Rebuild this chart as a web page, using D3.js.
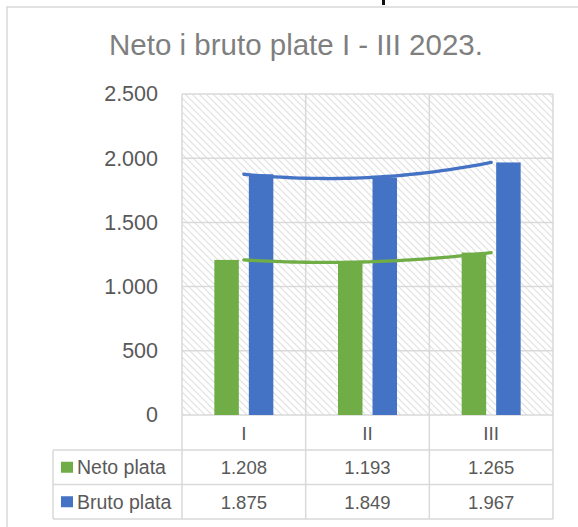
<!DOCTYPE html>
<html>
<head>
<meta charset="utf-8">
<script src="https://cdn.jsdelivr.net/npm/d3@7"></script>
<style>
  body { margin: 0; background: #fff; }
  svg { display: block; }
</style>
</head>
<body>
<div id="chart"></div>
<script>
const categories = ['I', 'II', 'III']
const seriesNames = ['Neto plata', 'Bruto plata']
const netoValues = [1208, 1193, 1265]
const brutoValues = [1875, 1849, 1967]
const yTicks = [0, 500, 1000, 1500, 2000, 2500]
const colors = ['#70ad47', '#4472c4']

const W = 578
const H = 527
const plot = { left: 182, right: 553, top: 94, bottom: 415 }
const table = { left: 53, top: 450, rowH: 34.5 }
const grey = '#d9d9d9'
const textCol = '#595959'

const locale = d3.formatLocale({ decimal: ',', thousands: '.', grouping: [3], currency: ['', ''] })
const fmt = locale.format(',d')

const series = [netoValues, brutoValues]

const svg = d3.select('#chart')
  .append('svg')
  .attr('width', W)
  .attr('height', H)
  .style('font-family', '"Liberation Sans", Arial, sans-serif')

// hatched plot background
const defs = svg.append('defs')
const pat = defs.append('pattern')
  .attr('id', 'hatch')
  .attr('patternUnits', 'userSpaceOnUse')
  .attr('width', 7)
  .attr('height', 7)
pat.append('rect').attr('width', 7).attr('height', 7).attr('fill', '#fff')
pat.append('path')
  .attr('d', 'M-1,-1 L8,8 M-1,6 L1,8 M6,-1 L8,1')
  .attr('stroke', '#e0e0e0')
  .attr('stroke-width', 1.1)

// chart border and the clipped mark above it
svg.append('rect')
  .attr('x', 7).attr('y', 7)
  .attr('width', 620).attr('height', 600)
  .attr('fill', 'none')
  .attr('stroke', grey)
  .attr('stroke-width', 1.5)
svg.append('rect')
  .attr('x', 382).attr('y', 0)
  .attr('width', 3).attr('height', 5)
  .attr('fill', '#111')

svg.append('text')
  .attr('x', 296)
  .attr('y', 55)
  .attr('text-anchor', 'middle')
  .attr('fill', '#7f7f7f')
  .style('font-size', '29.5px')
  .text('Neto i bruto plate I - III 2023.')

const x = d3.scaleBand().domain(categories).range([plot.left, plot.right])
const inner = d3.scaleBand().domain(seriesNames).range([-29.5, 29.5]).paddingInner(0.29)
const y = d3.scaleLinear().domain([0, 2500]).range([plot.bottom, plot.top])

svg.append('rect')
  .attr('x', plot.left).attr('y', plot.top)
  .attr('width', plot.right - plot.left)
  .attr('height', plot.bottom - plot.top)
  .attr('fill', 'url(#hatch)')

// gridlines
svg.append('g')
  .selectAll('line')
  .data(yTicks)
  .enter().append('line')
  .attr('x1', plot.left).attr('x2', plot.right)
  .attr('y1', d => y(d)).attr('y2', d => y(d))
  .attr('stroke', grey)
  .attr('stroke-width', 1.5)

// vertical category lines, from plot top through the table
const bounds = categories.map(c => x(c)).concat([plot.right])
svg.append('g')
  .selectAll('line')
  .data(bounds)
  .enter().append('line')
  .attr('x1', d => d).attr('x2', d => d)
  .attr('y1', plot.top).attr('y2', table.top + 2 * table.rowH)
  .attr('stroke', grey)
  .attr('stroke-width', 1.5)

// y axis labels
svg.append('g')
  .call(d3.axisLeft(y).tickValues(yTicks).tickFormat(fmt).tickSize(0).tickPadding(0))
  .attr('transform', 'translate(158,0)')
  .call(g => g.select('.domain').remove())
  .call(g => g.selectAll('text')
    .attr('fill', textCol)
    .style('font-size', '21.5px')
    .style('font-family', '"Liberation Sans", Arial, sans-serif'))

// bars
series.forEach((vals, i) => {
  svg.append('g')
    .selectAll('rect')
    .data(vals)
    .enter().append('rect')
    .attr('x', (d, j) => x(categories[j]) + x.bandwidth() / 2 + inner(seriesNames[i]))
    .attr('y', d => y(d))
    .attr('width', inner.bandwidth())
    .attr('height', d => y(0) - y(d))
    .attr('fill', colors[i])
})

// polynomial (order 2) trendlines through the three months
function quad (vals) {
  const [a, b, c] = vals
  return t => a * (t - 1) * (t - 2) / 2 - b * t * (t - 2) + c * t * (t - 1) / 2
}
series.forEach((vals, i) => {
  const f = quad(vals)
  const pts = d3.range(0, 2.001, 0.05).map(t => [
    x(categories[0]) + x.bandwidth() / 2 + t * x.step(),
    y(f(t))
  ])
  svg.append('path')
    .attr('d', d3.line()(pts))
    .attr('fill', 'none')
    .attr('stroke', colors[i])
    .attr('stroke-width', 3.3)
    .attr('stroke-linecap', 'round')
})

// category labels
svg.append('g')
  .selectAll('text')
  .data(categories)
  .enter().append('text')
  .attr('x', d => x(d) + x.bandwidth() / 2)
  .attr('y', 440)
  .attr('text-anchor', 'middle')
  .attr('fill', textCol)
  .style('font-size', '19px')
  .text(d => d)

// data table
const rowYs = [table.top, table.top + table.rowH, table.top + 2 * table.rowH]
svg.append('g')
  .selectAll('line')
  .data(rowYs)
  .enter().append('line')
  .attr('x1', table.left).attr('x2', plot.right)
  .attr('y1', d => d).attr('y2', d => d)
  .attr('stroke', grey)
  .attr('stroke-width', 1.5)
svg.append('line')
  .attr('x1', table.left).attr('x2', table.left)
  .attr('y1', table.top).attr('y2', table.top + 2 * table.rowH)
  .attr('stroke', grey)
  .attr('stroke-width', 1.5)

seriesNames.forEach((name, i) => {
  const cy = table.top + table.rowH * (i + 0.5)
  svg.append('rect')
    .attr('x', 61).attr('y', cy - 5.5)
    .attr('width', 12).attr('height', 11)
    .attr('fill', colors[i])
  svg.append('text')
    .attr('x', 77).attr('y', cy + 7)
    .attr('fill', textCol)
    .style('font-size', '19.5px')
    .text(name)
  svg.append('g')
    .selectAll('text')
    .data(series[i])
    .enter().append('text')
    .attr('x', (d, j) => x(categories[j]) + x.bandwidth() / 2)
    .attr('y', cy + 7)
    .attr('text-anchor', 'middle')
    .attr('fill', textCol)
    .style('font-size', '18.5px')
    .text(d => fmt(d))
})
</script>
</body>
</html>
